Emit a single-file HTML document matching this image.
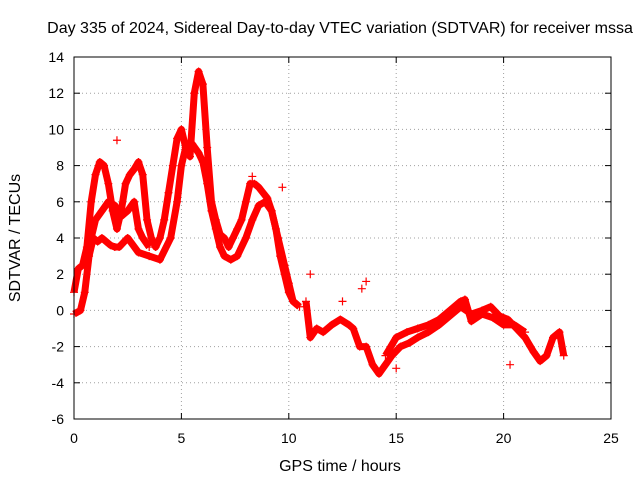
<!DOCTYPE html>
<html><head><meta charset="utf-8"><style>
body{margin:0;background:#fff}
text{font-family:"Liberation Sans",sans-serif;font-size:14px;fill:#000}
.big{font-size:16px}
</style></head><body>
<svg id="c" width="640" height="480"></svg>
<script>
const xTicks=[0,5,10,15,20,25];
const yTicks=[-6,-4,-2,0,2,4,6,8,10,12,14];
const upperX=[0,0.2,0.4,0.6,0.8,1.0,1.2,1.4,1.6,1.8,2.0,2.2,2.4,2.6,2.8,3.0,3.2,3.4,3.6,3.8,4.0,4.2,4.4,4.6,4.8,5.0,5.2,5.4,5.6,5.8,6.0,6.2,6.4,6.6,6.8,7.0,7.2,7.4,7.6,7.8,8.0,8.2,8.4,8.6,8.8,9.0,9.2,9.4,9.6,9.8,10,10.2,10.4];
const upperY=[1,2.3,2.5,3.5,6,7.5,8.2,8,7,5.5,4.5,5.5,7,7.5,7.8,8.2,7.5,5,4,3.5,4,5,6.5,8,9.5,10,9,8.5,12,13.2,12.5,9,6,5,4.2,4,3.5,4,4.5,5,6,7,7,6.8,6.5,6.2,5.5,4.5,3,2,1,0.5,0.3];
const lowerX=[0,0.3,0.5,0.7,0.9,1.1,1.3,1.5,1.7,1.9,2.1,2.5,3,3.5,4,4.5,4.8,5,5.2,5.5,5.8,6.0,6.2,6.4,6.6,6.8,7,7.3,7.6,8,8.3,8.6,8.9,9.2,9.5,9.8,10,10.2,10.5];
const lowerY=[-0.2,0,1,3,4,3.8,4,3.8,3.6,3.5,3.5,4,3.2,3,2.8,4,6,8,9,9.2,8.7,8.2,7,5.5,4.5,3.5,3,2.8,3,4,5,5.8,6,5.5,4,2.5,1.5,0.5,0.2];
const midX=[0.8,1,1.3,1.6,1.9,2.2,2.5,2.8,3,3.2,3.5];
const midY=[4,5,5.5,6,5.8,5.2,5.5,6,4.5,4,3.5];
const lateX=[10.8,11,11.3,11.6,12,12.4,12.8,13,13.3,13.6,13.9,14.2,14.5,14.8,15.2,15.6,16,16.5,17,17.5,18,18.5,19,19.4,19.8,20.2,20.6,21,21.4,21.7,22,22.3,22.6,22.8];
const lateY=[0.5,-1.5,-1,-1.2,-0.8,-0.5,-0.8,-1,-2,-2,-3,-3.5,-3,-2.5,-2,-1.8,-1.5,-1.2,-0.8,-0.3,0.2,-0.2,0,0.2,-0.3,-0.5,-1,-1.5,-2.3,-2.8,-2.5,-1.5,-1.2,-2.5];
const late2X=[14.5,15,15.5,16,16.5,17,17.5,18,18.2,18.5,19,19.5,20,20.5,21];
const late2Y=[-2.5,-1.5,-1.2,-1,-0.8,-0.5,0,0.5,0.6,-0.6,-0.2,-0.4,-0.8,-0.8,-1.2];
const outX=[2,13.6,13.4,8.3,11,9.7,20.3,15,12.5];
const outY=[9.4,1.6,1.2,7.4,2,6.8,-3,-3.2,0.5];

const L=74,R=611,T=57,B=419;
const sx=v=>L+(v-0)/25*(R-L);
const sy=v=>B-(v+6)/20*(B-T);
const svg=document.getElementById('c');
const NS='http://www.w3.org/2000/svg';
function mk(t,a,p){const e=document.createElementNS(NS,t);for(const k in a)e.setAttribute(k,a[k]);(p||svg).appendChild(e);return e;}

xTicks.forEach(v=>{
  if(v>0&&v<25){const g=mk('line',{x1:sx(v),x2:sx(v),y1:T,y2:B,stroke:'#a0a0a0','stroke-dasharray':'1,3'});
  
  }
  const t=mk('text',{x:sx(v),y:B+24,'text-anchor':'middle'});t.textContent=v;
  
  
  mk('line',{x1:sx(v),x2:sx(v),y1:B,y2:B-6,stroke:'#000'});
  mk('line',{x1:sx(v),x2:sx(v),y1:T,y2:T+6,stroke:'#000'});
});
yTicks.forEach(v=>{
  if(v>-6&&v<14){const g=mk('line',{x1:L,x2:R,y1:sy(v),y2:sy(v),stroke:'#a0a0a0','stroke-dasharray':'1,3'});
  
  }
  const t=mk('text',{x:L-10,y:sy(v)+5,'text-anchor':'end'});t.textContent=v;
  
  
  mk('line',{x1:L,x2:L+6,y1:sy(v),y2:sy(v),stroke:'#000'});
  mk('line',{x1:R,x2:R-6,y1:sy(v),y2:sy(v),stroke:'#000'});
});

function series(xs,ys,name){
  const g=mk('g',{});
  
  
  mk('polyline',{points:xs.map((x,i)=>sx(x)+','+sy(ys[i])).join(' '),fill:'none',stroke:'#f00','stroke-width':7,'stroke-linejoin':'round'},g);
  xs.forEach((x,i)=>{
    const p=mk('path',{d:`M${sx(x)-4},${sy(ys[i])}h8M${sx(x)},${sy(ys[i])-4}v8`,stroke:'#f00','stroke-width':1.2},g);
    
    
  });
}
series(upperX,upperY,'sdtvar-upper-trace');
series(lowerX,lowerY,'sdtvar-lower-trace');
series(midX,midY,'sdtvar-middle-trace');
series(lateX,lateY,'sdtvar-late-trace');
series(late2X,late2Y,'sdtvar-late-trace-2');
const og=mk('g',{});


outX.forEach((x,i)=>{
  const p=mk('path',{d:`M${sx(x)-4},${sy(outY[i])}h8M${sx(x)},${sy(outY[i])-4}v8`,stroke:'#f00','stroke-width':1.2},og);
  
  
});

const fr=mk('rect',{x:L,y:T,width:R-L,height:B-T,fill:'none',stroke:'#000'});


const ti=mk('text',{x:340,y:33,'text-anchor':'middle',class:'big'});
ti.textContent='Day 335 of 2024, Sidereal Day-to-day VTEC variation (SDTVAR) for receiver mssa';


const xl=mk('text',{x:340,y:471,'text-anchor':'middle',class:'big'});
xl.textContent='GPS time / hours';


const yl=mk('text',{x:0,y:0,'text-anchor':'middle',class:'big',transform:'translate(20,238) rotate(-90)'});
yl.textContent='SDTVAR / TECUs';


</script>
</body></html>
